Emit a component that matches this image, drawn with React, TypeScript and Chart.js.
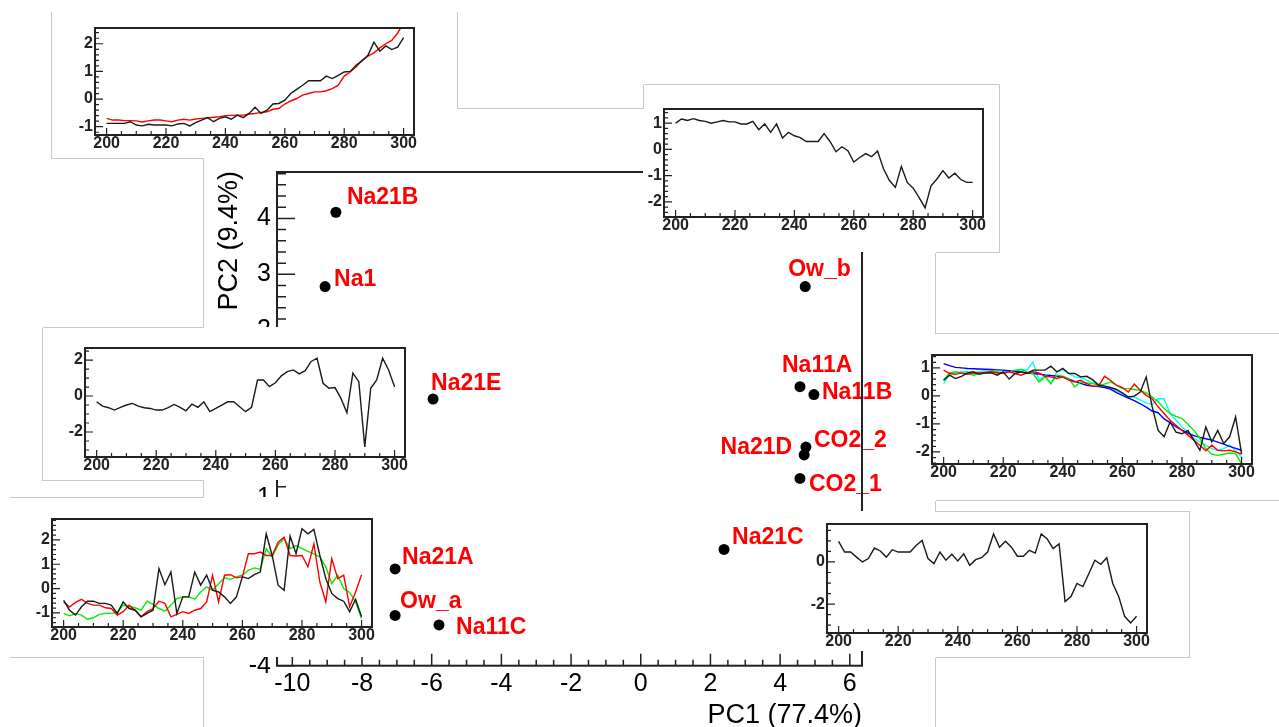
import React, { useEffect, useRef } from "react";
import { Chart, registerables } from "chart.js";

Chart.register(...registerables);

const FONT = "'Liberation Sans', Arial, Helvetica, sans-serif";

// ---------- main PCA scores ----------
const sampleNames = ["Na21B", "Na1", "Na21E", "Ow_b", "Na11A", "Na11B", "CO2_2", "Na21D", "CO2_1", "Na21C", "Na21A", "Ow_a", "Na11C"];
const pc1Scores = [-8.75, -9.06, -5.96, 4.72, 4.57, 4.97, 4.74, 4.69, 4.57, 2.39, -7.05, -7.05, -5.79];
const pc2Scores = [4.11, 2.78, 0.77, 2.78, 0.99, 0.85, -0.09, -0.23, -0.65, -1.92, -2.27, -3.1, -3.27];
const pc1TickValues = [-10, -8, -6, -4, -2, 0, 2, 4, 6];
const pc2TickValues = [-4, -3, -2, -1, 0, 1, 2, 3, 4];
const pc1Title = "PC1 (77.4%)";
const pc2Title = "PC2 (9.4%)";

// label placement (text offset from its point, presentation only)
const labelPlacement = [
  { dx: 11, dy: -8, align: "left" },
  { dx: 9, dy: -1, align: "left" },
  { dx: -2, dy: -9, align: "left" },
  { dx: -17, dy: -11, align: "left" },
  { dx: -18, dy: -15, align: "left" },
  { dx: 8, dy: 4, align: "left" },
  { dx: 8, dy: 0, align: "left" },
  { dx: -12, dy: -1, align: "right" },
  { dx: 9, dy: 13, align: "left" },
  { dx: 8, dy: -5, align: "left" },
  { dx: 7, dy: -5, align: "left" },
  { dx: 5, dy: -7, align: "left" },
  { dx: 17, dy: 9, align: "left" },
];

// ---------- inset spectra ----------
const wavelengths = [
  200, 202, 204, 206, 208, 210, 212, 214, 216, 218,
  220, 222, 224, 226, 228, 230, 232, 234, 236, 238,
  240, 242, 244, 246, 248, 250, 252, 254, 256, 258,
  260, 262, 264, 266, 268, 270, 272, 274, 276, 278,
  280, 282, 284, 286, 288, 290, 292, 294, 296, 298,
  300,
];
const wavelengthTicks = [200, 220, 240, 260, 280, 300];

const topLeftBlack = [
  -0.88, -0.88, -0.88, -0.88, -0.82, -0.94, -0.97, -0.91, -0.94, -0.94,
  -0.94, -0.97, -0.9, -0.88, -0.97, -0.85, -0.76, -0.67, -0.82, -0.7,
  -0.64, -0.73, -0.58, -0.67, -0.52, -0.3, -0.52, -0.4, -0.18, -0.16,
  -0.04, 0.2, 0.35, 0.5, 0.66, 0.66, 0.66, 0.83, 0.74, 0.86,
  0.98, 1.0, 1.22, 1.38, 1.58, 2.06, 1.73, 1.92, 1.79, 1.88,
  2.22,
];
const topLeftRed = [
  -0.7, -0.76, -0.76, -0.78, -0.78, -0.79, -0.83, -0.79, -0.76, -0.76,
  -0.79, -0.82, -0.76, -0.73, -0.76, -0.72, -0.7, -0.68, -0.66, -0.64,
  -0.6, -0.59, -0.58, -0.58, -0.54, -0.52, -0.48, -0.46, -0.37, -0.34,
  -0.18, -0.07, 0.02, 0.14, 0.2, 0.26, 0.26, 0.3, 0.38, 0.5,
  0.83, 0.98, 1.16, 1.4, 1.55, 1.67, 1.85, 2.0, 2.12, 2.39,
  2.75,
];
const topMidBlack = [
  1.0, 1.16, 1.1, 1.17, 1.1, 1.07, 1.0, 1.05, 1.1, 1.05,
  1.05, 0.97, 0.97, 1.07, 0.75, 0.97, 0.65, 0.97, 0.43, 0.65,
  0.52, 0.45, 0.3, 0.3, 0.3, 0.6, 0.3, -0.09, 0.1, -0.05,
  -0.48, -0.31, -0.16, -0.28, -0.06, -0.74, -1.19, -1.45, -0.65, -1.26,
  -1.48, -1.84, -2.23, -1.39, -1.13, -0.81, -1.09, -0.91, -1.15, -1.26,
  -1.26,
];
const midLeftBlack = [
  -0.32, -0.56, -0.65, -0.78, -0.63, -0.5, -0.41, -0.56, -0.65, -0.69,
  -0.78, -0.78, -0.65, -0.47, -0.63, -0.82, -0.45, -0.63, -0.32, -0.87,
  -0.69, -0.5, -0.32, -0.32, -0.6, -0.87, -0.63, 0.89, 0.89, 0.52,
  0.74, 1.12, 1.36, 1.45, 1.23, 1.41, 1.92, 2.1, 0.71, 0.43,
  0.47, -0.13, -0.93, 1.27, 0.8, -2.83, 0.43, 0.89, 2.1, 1.45,
  0.52,
];
const midRightBlack = [
  0.56, 0.74, 0.62, 0.7, 0.82, 0.86, 0.77, 0.82, 0.82, 0.74,
  0.86, 0.6, 0.8, 0.86, 0.8, 0.92, 0.92, 0.92, 1.06, 0.86,
  0.98, 0.8, 0.8, 0.68, 0.7, 0.58, 0.38, 0.35, 0.3, 0.23,
  0.11, -0.04, -0.01, 0.14, 0.68, -0.39, -1.23, -1.46, -0.93, -1.29,
  -1.35, -1.23, -1.58, -1.94, -1.11, -1.64, -1.23, -1.7, -1.46, -0.75,
  -2.06,
];
const midRightRed = [
  0.92, 0.8, 0.77, 0.82, 0.77, 0.82, 0.82, 0.85, 0.86, 0.82,
  0.82, 0.86, 0.8, 0.74, 0.82, 0.86, 0.82, 0.7, 0.68, 0.62,
  0.68, 0.56, 0.5, 0.56, 0.44, 0.35, 0.35, 0.7, 0.56, 0.38,
  0.3, 0.14, 0.42, 0.2, 0.02, -0.1, -0.39, -0.63, -0.87, -1.05,
  -1.23, -1.4, -1.58, -1.76, -1.96, -1.76, -1.94, -1.96, -1.94, -2.0,
  -2.08,
];
const midRightGreen = [
  0.56, 0.82, 0.86, 0.82, 0.8, 0.74, 0.8, 0.82, 0.86, 0.86,
  0.8, 0.86, 0.92, 0.94, 0.86, 0.8, 0.5, 0.68, 0.44, 0.74,
  0.7, 0.62, 0.32, 0.5, 0.46, 0.44, 0.38, 0.42, 0.5, 0.38,
  0.26, 0.26, 0.23, 0.2, 0.11, -0.04, -0.21, -0.45, -0.63, -0.73,
  -0.81, -1.01, -1.23, -1.52, -1.88, -2.08, -2.12, -2.08, -2.04, -2.06,
  -2.42,
];
const midRightBlue = [
  1.15, 1.08, 1.02, 1.0, 0.98, 0.97, 0.96, 0.95, 0.94, 0.93,
  0.92, 0.9, 0.88, 0.85, 0.82, 0.8, 0.78, 0.75, 0.73, 0.7,
  0.67, 0.6, 0.52, 0.45, 0.38, 0.35, 0.33, 0.3, 0.24, 0.12,
  0.02, -0.08, -0.17, -0.28, -0.4, -0.54, -0.6, -0.82, -0.95, -1.1,
  -1.22, -1.33, -1.42, -1.48, -1.53, -1.58, -1.65, -1.72, -1.8, -1.87,
  -1.94,
];
const midRightCyan = [
  0.44, 0.8, 0.82, 0.86, 0.86, 0.82, 0.86, 0.92, 0.92, 0.82,
  0.86, 0.86, 0.89, 0.94, 0.92, 1.21, 0.56, 0.74, 0.44, 0.86,
  0.94, 0.8, 0.68, 0.65, 0.56, 0.46, 0.44, 0.35, 0.3, 0.18,
  0.08, -0.04, -0.04, -0.15, -0.25, -0.3, -0.1, -0.1, -0.63, -0.87,
  -1.11, -1.29, -1.52, -1.64, -1.76, -1.88, -1.94, -1.88, -1.76, -1.96,
  -2.18,
];
const botLeftBlack = [
  -0.48, -0.89, -1.09, -0.75, -0.52, -0.52, -0.61, -0.61, -0.68, -1.02,
  -0.55, -0.82, -0.89, -1.16, -1.02, -0.89, 0.82, 0.16, 0.68, -1.02,
  -0.34, -0.34, 0.68, 0.14, 0.55, -0.07, -0.14, -0.34, -0.61, -0.34,
  0.48, 0.41, 0.57, 0.68, 2.25, 1.36, 0.14, -0.07, 2.16, 1.43,
  2.46, 2.25, 2.43, 1.36, 0.41, -0.2, -0.41, -0.52, -0.95, -0.44,
  -1.16,
];
const botLeftRed = [
  -0.55, -0.75, -0.57, -0.44, -0.61, -0.68, -0.68, -0.79, -0.82, -1.09,
  -0.95, -0.68, -0.89, -1.16, -0.95, -0.82, -0.52, -0.61, -1.16, -1.06,
  -0.95, -1.02, -0.89, -0.82, -0.55, 0.55, -0.55, 0.55, 0.57, 0.44,
  0.48, 1.43, 1.43, 1.5, 1.36, 1.36, 1.91, 2.11, 1.36, 1.34,
  1.36, 0.89, 1.84, 0.27, -0.55, 1.23, 0.41, 0.55, -0.75, -0.14,
  0.57,
];
const botLeftGreen = [
  -1.02, -1.12, -1.02, -1.09, -1.26, -1.2, -1.06, -1.02, -1.02, -0.98,
  -0.68, -0.75, -0.79, -0.89, -0.52, -0.65, -0.82, -0.93, -0.68, -0.41,
  -0.34, -0.34, -0.44, -0.14, 0.07, -0.07, 0.2, 0.44, 0.38, 0.48,
  0.55, 0.75, 0.85, 0.79, 1.64, 1.3, 1.8, 2.05, 1.64, 1.77,
  1.64, 1.53, 1.43, 1.3, 0.89, 0.2, 0.55, 0.0, -0.16, -0.55,
  -1.23,
];
const botRightBlack = [
  0.98, 0.47, 0.47, 0.23, 0.0, 0.16, 0.66, 0.52, 0.23, 0.58,
  0.47, 0.47, 0.47, 0.78, 1.02, 0.16, -0.08, 0.47, 0.08, 0.36,
  0.05, 0.39, -0.16, 0.11, 0.2, 0.47, 1.33, 0.7, 0.98, 0.7,
  0.27, 0.27, 0.55, 0.42, 1.33, 1.09, 0.63, 0.86, -1.88, -1.64,
  -1.02, -1.17, -0.55, 0.08, -0.11, 0.2, -1.02, -1.64, -2.58, -2.89,
  -2.58,
];

const BLACK = "#1a1a1a";
const RED = "#ff0000";
const GREEN = "#00ee00";
const BLUE = "#0000ff";
const CYAN = "#00ffff";

// inset layout: pad = white panel, frame = plot frame (page pixels)
const insetSpecs = [
  {
    pad: { l: 51, t: 11, r: 457, b: 158 }, frame: { l: 95, t: 28, r: 414, b: 135 },
    yMin: -1.3, yMax: 2.57, yTicks: [-1, 0, 1, 2], yMajor: 1, yMinor: 0.2,
    series: [{ v: topLeftBlack, c: BLACK }, { v: topLeftRed, c: RED }],
  },
  {
    pad: { l: 643, t: 84, r: 999, b: 252 }, frame: { l: 664, t: 109, r: 983, b: 217 },
    yMin: -2.58, yMax: 1.54, yTicks: [-2, -1, 0, 1], yMajor: 1, yMinor: 0.2,
    series: [{ v: topMidBlack, c: BLACK }],
  },
  {
    pad: { l: 42, t: 327, r: 418, b: 480 }, frame: { l: 85, t: 348, r: 405, b: 457 },
    yMin: -3.39, yMax: 2.67, yTicks: [-2, 0, 2], yMajor: 2, yMinor: 0.5,
    series: [{ v: midLeftBlack, c: BLACK }],
  },
  {
    pad: { l: 898, t: 333, r: 1279, b: 500 }, frame: { l: 932, t: 355, r: 1252, b: 464 },
    yMin: -2.43, yMax: 1.46, yTicks: [-2, -1, 0, 1], yMajor: 1, yMinor: 0.2,
    series: [
      { v: midRightBlack, c: BLACK }, { v: midRightRed, c: RED }, { v: midRightGreen, c: GREEN },
      { v: midRightBlue, c: BLUE }, { v: midRightCyan, c: CYAN },
    ],
  },
  {
    pad: { l: 9, t: 497, r: 385, b: 657 }, frame: { l: 52, t: 519, r: 372, b: 627 },
    yMin: -1.58, yMax: 2.86, yTicks: [-1, 0, 1, 2], yMajor: 1, yMinor: 0.2,
    series: [{ v: botLeftBlack, c: BLACK }, { v: botLeftRed, c: RED }, { v: botLeftGreen, c: GREEN }],
  },
  {
    pad: { l: 805, t: 511, r: 1189, b: 651 }, frame: { l: 827, t: 524, r: 1147, b: 633 },
    yMin: -3.37, yMax: 1.8, yTicks: [-2, 0], yMajor: 2, yMinor: 0.5,
    series: [{ v: botRightBlack, c: BLACK }],
  },
];

// light grey panel outlines visible in the composite
const panelOutlines = [
  [51, 11, 51, 158], [51, 158, 203, 158], [203, 158, 203, 327],
  [42, 327, 203, 327], [42, 327, 42, 480], [42, 480, 203, 480], [203, 480, 203, 497],
  [9, 497, 203, 497], [9, 657, 203, 657], [203, 657, 203, 727],
  [457, 11, 457, 108], [457, 108, 643, 108], [643, 84, 643, 108],
  [643, 84, 999, 84], [999, 84, 999, 252], [935, 252, 999, 252],
  [935, 252, 935, 333], [935, 333, 1279, 333], [935, 500, 1279, 500],
  [935, 500, 935, 511], [935, 511, 1189, 511], [1189, 511, 1189, 657],
  [935, 657, 1189, 657], [935, 657, 935, 727],
];

// ---------- plugins ----------
const frameTicksPlugin = {
  id: "frameTicks",
  afterDraw(chart: any, _args: any, o: any) {
    const { ctx, chartArea: a, scales } = chart;
    const xs = scales.x;
    const ys = scales.y;
    const eps = 1e-6;
    ctx.save();
    ctx.strokeStyle = o.color;
    ctx.lineWidth = o.tickWidth;
    ctx.beginPath();
    for (let k = Math.ceil((xs.min - eps) / o.xMinor); k * o.xMinor <= xs.max + eps; k++) {
      const v = k * o.xMinor;
      const r = v / o.xMajor;
      const major = Math.abs(r - Math.round(r)) < 1e-6;
      const px = xs.getPixelForValue(v);
      ctx.moveTo(px, a.bottom);
      ctx.lineTo(px, a.bottom - (major ? o.xLenMaj : o.xLenMin));
    }
    for (let k = Math.ceil((ys.min - eps) / o.yMinor); k * o.yMinor <= ys.max + eps; k++) {
      const v = k * o.yMinor;
      const r = v / o.yMajor;
      const major = Math.abs(r - Math.round(r)) < 1e-6;
      const py = ys.getPixelForValue(v);
      ctx.moveTo(a.left, py);
      ctx.lineTo(a.left + (major ? o.yLenMaj : o.yLenMin), py);
    }
    ctx.stroke();
    ctx.lineWidth = o.frameWidth;
    ctx.strokeRect(a.left, a.top, a.right - a.left, a.bottom - a.top);
    ctx.restore();
  },
};

const pointLabelPlugin = {
  id: "pointLabels",
  afterDatasetsDraw(chart: any) {
    const meta = chart.getDatasetMeta(0);
    const ctx = chart.ctx;
    ctx.save();
    ctx.font = `bold 23px ${FONT}`;
    ctx.fillStyle = "#ff0000";
    ctx.textBaseline = "alphabetic";
    meta.data.forEach((pt: any, i: number) => {
      const p = labelPlacement[i];
      ctx.textAlign = p.align;
      ctx.fillText(sampleNames[i], pt.x + p.dx, pt.y + p.dy);
    });
    ctx.restore();
  },
};

const axisTitlePlugin = {
  id: "axisTitles",
  afterDraw(chart: any) {
    const { ctx, chartArea: a } = chart;
    ctx.save();
    ctx.fillStyle = "#000";
    ctx.font = `27px ${FONT}`;
    ctx.textAlign = "right";
    ctx.textBaseline = "alphabetic";
    ctx.fillText(pc1Title, a.right, a.bottom + 57);
    ctx.translate(a.left - 47, a.top - 1);
    ctx.rotate(-Math.PI / 2);
    ctx.textAlign = "right";
    ctx.textBaseline = "middle";
    ctx.fillText(pc2Title, 0, 0);
    ctx.restore();
  },
};

// ---------- configs ----------
function mainConfig(): any {
  return {
    type: "scatter",
    data: {
      datasets: [
        {
          data: pc1Scores.map((x, i) => ({ x, y: pc2Scores[i] })),
          pointRadius: 5.5,
          pointBackgroundColor: "#000",
          pointBorderWidth: 0,
          showLine: false,
        },
      ],
    },
    options: {
      animation: false,
      responsive: false,
      events: [],
      layout: { padding: { left: 0, top: 172, right: 1279 - 862, bottom: 0 } },
      plugins: {
        legend: { display: false },
        tooltip: { enabled: false },
        frameTicks: {
          color: "#222", tickWidth: 1.5, frameWidth: 2,
          xMajor: 2, xMinor: 0.5, xLenMaj: 12, xLenMin: 6,
          yMajor: 1, yMinor: 0.2, yLenMaj: 18, yLenMin: 9,
        },
      },
      scales: {
        x: {
          type: "linear", min: -10.44, max: 6.35,
          afterFit: (s: any) => { s.height = 727 - 665.7; },
          afterBuildTicks: (s: any) => { s.ticks = pc1TickValues.map((v) => ({ value: v })); },
          grid: { display: false, drawTicks: false }, border: { display: false },
          ticks: { color: "#000", font: { family: FONT, size: 25 }, padding: 3, maxRotation: 0, autoSkip: false },
        },
        y: {
          type: "linear", min: -4, max: 4.83,
          afterFit: (s: any) => { s.width = 277; },
          afterBuildTicks: (s: any) => { s.ticks = pc2TickValues.map((v) => ({ value: v })); },
          grid: { display: false, drawTicks: false }, border: { display: false },
          ticks: { color: "#000", font: { family: FONT, size: 25 }, padding: 6, autoSkip: false },
        },
      },
    },
    plugins: [frameTicksPlugin, pointLabelPlugin, axisTitlePlugin],
  };
}

function insetConfig(spec: any): any {
  const { pad, frame } = spec;
  return {
    type: "line",
    data: {
      datasets: spec.series.map((s: any) => ({
        data: wavelengths.map((w, i) => ({ x: w, y: s.v[i] })),
        borderColor: s.c,
        borderWidth: 1.4,
        pointRadius: 0,
        tension: 0,
        fill: false,
      })),
    },
    options: {
      animation: false,
      responsive: false,
      events: [],
      layout: { padding: { left: 0, top: frame.t - pad.t, right: pad.r - frame.r, bottom: 0 } },
      plugins: {
        legend: { display: false },
        tooltip: { enabled: false },
        frameTicks: {
          color: "#222", tickWidth: 1.2, frameWidth: 2,
          xMajor: 20, xMinor: 5, xLenMaj: 7, xLenMin: 4,
          yMajor: spec.yMajor, yMinor: spec.yMinor, yLenMaj: 8, yLenMin: 4,
        },
      },
      scales: {
        x: {
          type: "linear", min: 196.1, max: 303.5,
          afterFit: (s: any) => { s.height = pad.b - frame.b; },
          afterBuildTicks: (s: any) => { s.ticks = wavelengthTicks.map((v) => ({ value: v })); },
          grid: { display: false, drawTicks: false }, border: { display: false },
          ticks: { color: "#222", font: { family: FONT, size: 16, weight: "bold", lineHeight: 1 }, padding: 1, maxRotation: 0, autoSkip: false },
        },
        y: {
          type: "linear", min: spec.yMin, max: spec.yMax,
          afterFit: (s: any) => { s.width = frame.l - pad.l; },
          afterBuildTicks: (s: any) => { s.ticks = spec.yTicks.map((v: number) => ({ value: v })); },
          grid: { display: false, drawTicks: false }, border: { display: false },
          ticks: { color: "#222", font: { family: FONT, size: 16, weight: "bold" }, padding: 2, autoSkip: false },
        },
      },
    },
    plugins: [frameTicksPlugin],
  };
}

function ChartCanvas({ rect, makeConfig, bg }: any) {
  const ref = useRef<HTMLCanvasElement>(null);
  useEffect(() => {
    const chart = new Chart(ref.current as HTMLCanvasElement, makeConfig());
    return () => chart.destroy();
  }, []);
  const w = rect.r - rect.l;
  const h = rect.b - rect.t;
  return (
    <canvas
      ref={ref}
      width={w}
      height={h}
      style={{ position: "absolute", left: rect.l, top: rect.t, width: w, height: h, background: bg, display: "block" }}
    />
  );
}

export default function App() {
  return (
    <div style={{ position: "absolute", left: 0, top: 0, width: 1279, height: 727, overflow: "hidden", background: "#fff" }}>
      <ChartCanvas rect={{ l: 0, t: 0, r: 1279, b: 727 }} makeConfig={mainConfig} bg="transparent" />
      {insetSpecs.map((s, i) => (
        <ChartCanvas key={i} rect={s.pad} makeConfig={() => insetConfig(s)} bg="#fff" />
      ))}
      <svg
        width={1279}
        height={727}
        style={{ position: "absolute", left: 0, top: 0, pointerEvents: "none" }}
        shapeRendering="crispEdges"
      >
        {panelOutlines.map((s, i) => (
          <line key={i} x1={s[0] + 0.5} y1={s[1] + 0.5} x2={s[2] + 0.5} y2={s[3] + 0.5} stroke="#c8c8c8" strokeWidth={1} />
        ))}
      </svg>
    </div>
  );
}
